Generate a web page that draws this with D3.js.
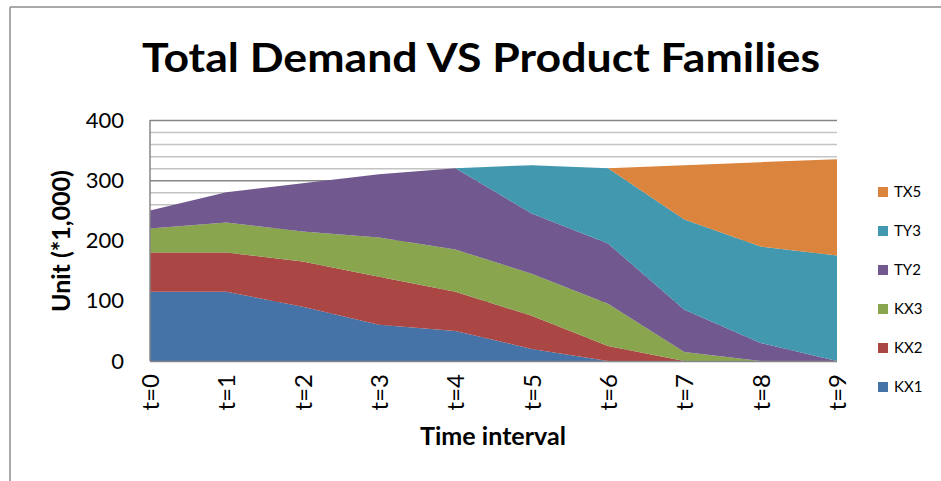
<!DOCTYPE html>
<html>
<head>
<meta charset="utf-8">
<script src="https://cdn.jsdelivr.net/npm/d3@7/dist/d3.min.js"></script>
<style>
  html, body { margin: 0; padding: 0; background: #fff; }
  svg { display: block; font-family: Lato, "Open Sans", sans-serif; }
</style>
</head>
<body>
<svg id="chart" width="941" height="481"></svg>
<script>
// Time steps on the x axis
const timeLabels = ["t=0", "t=1", "t=2", "t=3", "t=4", "t=5", "t=6", "t=7", "t=8", "t=9"];

// Demand per product family (units of 1,000)
const kx1 = [115, 115, 90, 60, 50, 20, 0, 0, 0, 0];
const kx2 = [65, 65, 75, 80, 65, 55, 25, 0, 0, 0];
const kx3 = [40, 50, 50, 65, 70, 70, 70, 15, 0, 0];
const ty2 = [30, 50, 80, 105, 135, 100, 100, 70, 30, 0];
const ty3 = [0, 0, 0, 0, 0, 80, 125, 150, 160, 175];
const tx5 = [0, 0, 0, 0, 0, 0, 0, 90, 140, 160];

const seriesNames = ["KX1", "KX2", "KX3", "TY2", "TY3", "TX5"];
const seriesValues = [kx1, kx2, kx3, ty2, ty3, tx5];
const seriesColors = ["#4572A7", "#AA4643", "#89A54E", "#71588F", "#4198AF", "#DB843D"];

const yTicks = [0, 100, 200, 300, 400];

const svg = d3.select("#chart");

// Outer chart frame (top and left edges)
svg.append("line").attr("x1", 10).attr("x2", 941).attr("y1", 7).attr("y2", 7)
  .attr("stroke", "#8c8c8c").attr("stroke-width", 1.5);
svg.append("line").attr("x1", 10).attr("x2", 10).attr("y1", 7).attr("y2", 481)
  .attr("stroke", "#8c8c8c").attr("stroke-width", 1.5);

const plot = { left: 150, right: 837, top: 120, bottom: 361 };

const x = d3.scalePoint().domain(timeLabels).range([plot.left, plot.right]);
const y = d3.scaleLinear().domain([0, 400]).range([plot.bottom, plot.top]);

// Gridlines: minor every 20, major every 100
const gridVals = d3.range(20, 401, 20);
svg.append("g").selectAll("line").data(gridVals).join("line")
  .attr("x1", plot.left).attr("x2", plot.right)
  .attr("y1", d => y(d) + 0.5).attr("y2", d => y(d) + 0.5)
  .attr("stroke", d => d % 100 === 0 ? "#868686" : "#c4c4c4")
  .attr("stroke-width", 1.5);

// Stacked areas
const rows = timeLabels.map((t, i) => {
  const r = { t };
  seriesNames.forEach((n, k) => { r[n] = seriesValues[k][i]; });
  return r;
});
const stacked = d3.stack().keys(seriesNames)(rows);
const area = d3.area()
  .x(d => x(d.data.t))
  .y0(d => y(d[0]))
  .y1(d => y(d[1]));

svg.append("g").selectAll("path").data(stacked).join("path")
  .attr("d", area)
  .attr("fill", (d, i) => seriesColors[i]);

// Plot area left edge and baseline
svg.append("line").attr("x1", plot.left).attr("x2", plot.left)
  .attr("y1", plot.top).attr("y2", plot.bottom)
  .attr("stroke", "#868686").attr("stroke-width", 1.5);
svg.append("line").attr("x1", plot.left).attr("x2", plot.right)
  .attr("y1", plot.bottom + 0.5).attr("y2", plot.bottom + 0.5)
  .attr("stroke", "#868686").attr("stroke-width", 1.5);

// Y axis labels
const yAxis = d3.axisLeft(y).tickValues(yTicks).tickSize(0).tickPadding(0);
const yg = svg.append("g").attr("transform", `translate(124,0)`).call(yAxis);
yg.select(".domain").remove();
yg.selectAll("text").attr("font-size", 22).attr("fill", "#000")
  .attr("font-family", "Lato, sans-serif");

// X axis labels, rotated
const xAxis = d3.axisBottom(x).tickSize(0).tickPadding(0);
const xg = svg.append("g").attr("transform", `translate(0,${plot.bottom})`).call(xAxis);
xg.select(".domain").remove();
xg.selectAll("text")
  .attr("font-size", 24).attr("fill", "#000")
  .attr("font-family", "Lato, sans-serif")
  .attr("transform", "rotate(-90)")
  .attr("text-anchor", "end")
  .attr("dy", "0.35em")
  .attr("x", -13).attr("y", 0);

// Fit a text element to a target width by scaling its font size
function fitWidth(sel, target) {
  const w = sel.node().getComputedTextLength();
  const fs = parseFloat(sel.attr("font-size"));
  sel.attr("font-size", fs * target / w);
}

// Title: tall bold glyphs squeezed to the title width
svg.append("text")
  .attr("x", 481).attr("y", 72)
  .attr("text-anchor", "middle")
  .attr("font-weight", "bold").attr("font-size", 41)
  .attr("textLength", 678).attr("lengthAdjust", "spacingAndGlyphs")
  .text("Total Demand VS Product Families");

// Axis titles
const yTitle = svg.append("text")
  .attr("transform", "translate(70,241) rotate(-90)")
  .attr("text-anchor", "middle")
  .attr("font-weight", "bold").attr("font-size", 20)
  .text("Unit (*1,000)");
fitWidth(yTitle, 142);

const xTitle = svg.append("text")
  .attr("x", 493).attr("y", 445)
  .attr("text-anchor", "middle")
  .attr("font-weight", "bold").attr("font-size", 20)
  .text("Time interval");
fitWidth(xTitle, 146);

// Legend, top series first
const legendItems = seriesNames.map((n, i) => ({ name: n, color: seriesColors[i] })).reverse();
const lg = svg.append("g").selectAll("g").data(legendItems).join("g")
  .attr("transform", (d, i) => `translate(878,${192 + i * 39})`);
lg.append("rect").attr("x", 0).attr("y", -5).attr("width", 10).attr("height", 10)
  .attr("fill", d => d.color);
lg.append("text").attr("x", 16).attr("y", 0).attr("dy", "0.35em")
  .attr("font-size", 15).attr("fill", "#000")
  .text(d => d.name);
</script>
</body>
</html>
